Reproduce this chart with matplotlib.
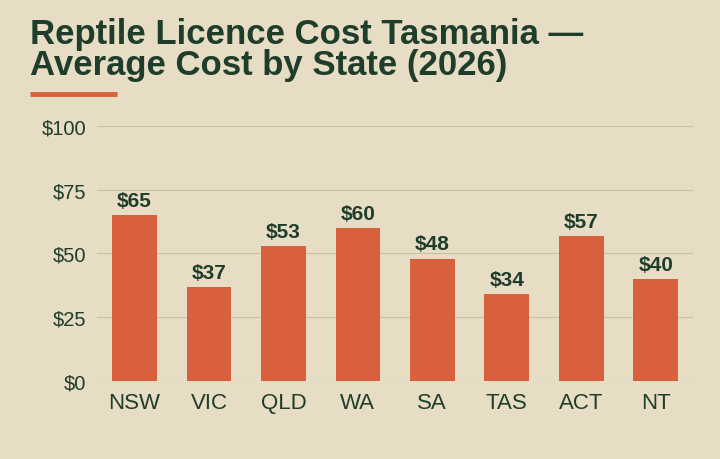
import matplotlib.pyplot as plt
from matplotlib.lines import Line2D

states = ['NSW', 'VIC', 'QLD', 'WA', 'SA', 'TAS', 'ACT', 'NT']
costs = [65, 37, 53, 60, 48, 34, 57, 40]
yticks = [0, 25, 50, 75, 100]

BG = '#e7dcc4'
GREEN = '#1f3d2b'
ORANGE = '#d9603d'

plt.rcParams['font.family'] = ['Liberation Sans', 'DejaVu Sans']

fig = plt.figure(figsize=(7.2, 4.6), dpi=100, facecolor=BG)
ax = fig.add_axes([0.135, 0.1696, 0.8275, 0.5544], facecolor=BG)

ax.bar(range(len(states)), costs, width=0.6, color=ORANGE, zorder=3)
for i, v in enumerate(costs):
    ax.text(i, v + 2, f'${v}', ha='center', va='bottom', fontsize=15,
            fontweight='bold', color=GREEN)

ax.set_xlim(-0.5, len(states) - 0.5)
ax.set_ylim(0, 100)
ax.set_yticks(yticks)
ax.set_yticklabels([f'${t}' for t in yticks], fontsize=14.5, color=GREEN)
ax.set_xticks(range(len(states)))
ax.set_xticklabels(states, fontsize=16, color=GREEN)
ax.tick_params(length=0, pad=8)
ax.grid(axis='y', color='#c9bea6', linewidth=0.8, zorder=0)
for s in ax.spines.values():
    s.set_visible(False)

fig.text(30 / 720, 1 - 18 / 460, 'Reptile Licence Cost Tasmania —\nAverage Cost by State (2026)',
         ha='left', va='top', fontsize=25, fontweight='bold', color=GREEN,
         linespacing=0.92)
fig.add_artist(Line2D([30 / 720, 117 / 720], [1 - 95 / 460] * 2, color=ORANGE,
                      linewidth=3.5, solid_capstyle='butt',
                      transform=fig.transFigure))

fig.savefig('out.png', dpi=100, facecolor=BG)
